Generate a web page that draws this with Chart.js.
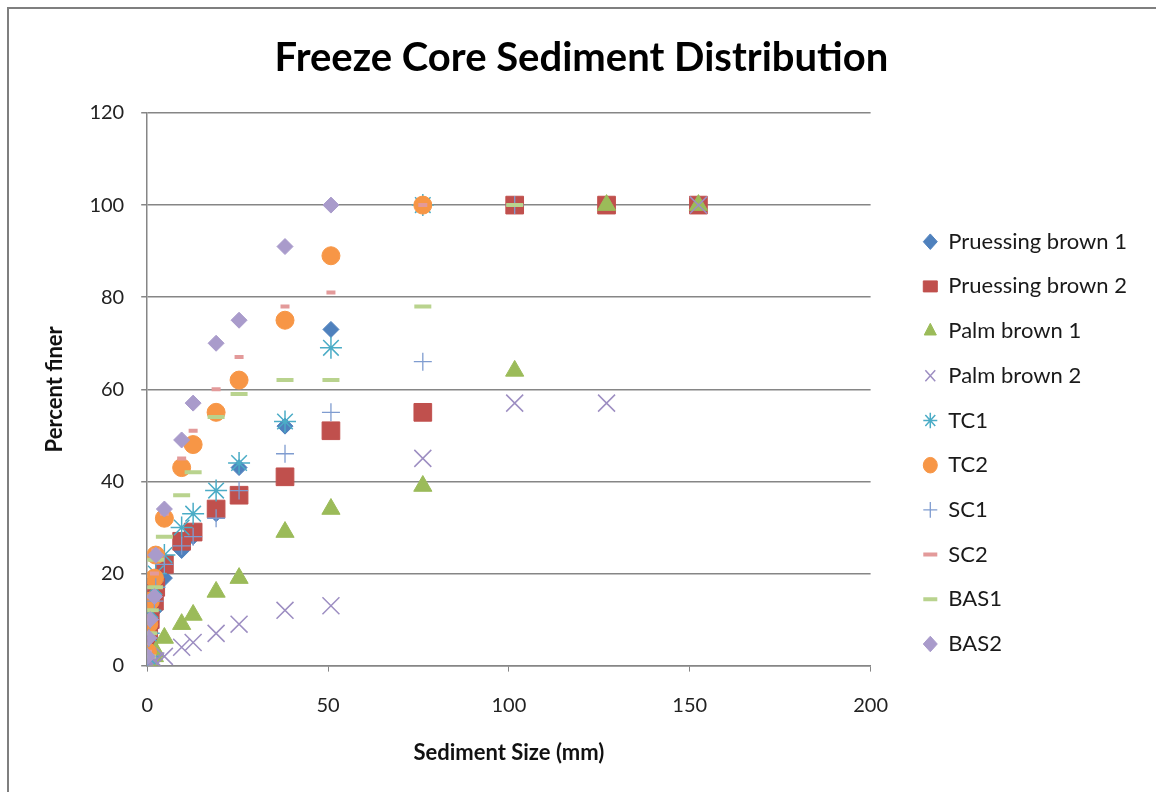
<!DOCTYPE html>
<html>
<head>
<meta charset="utf-8">
<script src="https://cdn.jsdelivr.net/npm/chart.js@4/dist/chart.umd.min.js"></script>
<style>
  body { margin: 0; background: #fff; }
  #frame { position: absolute; left: 7px; top: 7px; width: 1160px; height: 800px; border: 2px solid #7f7f7f; }
  #sediment { position: absolute; left: 0; top: 0; }
</style>
</head>
<body>
<div id="frame"></div>
<canvas id="sediment" width="1156" height="792"></canvas>
<script>
// sieve sizes in mm (shared by every sample)
var sizes = [152.4, 127, 101.6, 76.2, 50.8, 38.1, 25.4, 19.05, 12.7, 9.525, 4.75, 2.36, 2.0, 0.85, 0.425, 0.075];

// percent finer for each sample, null where no point shows
var pruessing1 = [null, null, null, 100, 73, 52, 43, 33, 28, 25, 19, 16, 12, 8, 4, 1];
var pruessing2 = [100, 100, 100, 55, 51, 41, 37, 34, 29, 27, 22, 17, 14, 10, 6, 2];
var palm1 = [100, 100, 64, 39, 34, 29, 19, 16, 11, 9, 6, 3, 2, 1, 0.5, 0];
var palm2 = [100, 57, 57, 45, 13, 12, 9, 7, 5, 4, 2, 1, 1, 0.5, 0, 0];
var tc1 = [null, null, null, 100, 69, 53, 44, 38, 33, 30, 24, 20, 17, 12, 7, 2];
var tc2 = [null, null, null, 100, 89, 75, 62, 55, 48, 43, 32, 24, 19, 14, 9, 3];
var sc1 = [null, null, 100, 66, 55, 46, 38, 32, 28, 26, 22, 17, 14, 10, 6, 2];
var sc2 = [null, null, null, 100, 81, 78, 67, 60, 51, 45, 33, 25, 20, 15, 10, 3];
var bas1 = [null, null, 100, 78, 62, 62, 59, 54, 42, 37, 28, 23, 17, 12, 7, 2];
var bas2 = [null, null, null, null, 100, 91, 75, 70, 57, 49, 34, 24, 15, 10, 6, 2];

var xTicks = [0, 50, 100, 150, 200];
var yTicks = [0, 20, 40, 60, 80, 100, 120];

// turn a column of values into scatter points
function pts(vals) {
    var out = [];
    for (var i = 0; i < sizes.length; i++) {
        if (vals[i] !== null) out.push({x: sizes[i], y: vals[i]});
    }
    return out;
}

var n = 0;
function series(label, vals, style, color, radius, border, fill) {
    n++;
    return {
        label: label,
        data: pts(vals),
        order: 20 - n, // later series sit on top, like Excel
        pointStyle: style,
        pointRadius: radius,
        pointHoverRadius: radius,
        pointBorderWidth: border,
        borderColor: color,
        backgroundColor: fill ? color : 'rgba(0,0,0,0)',
        pointBackgroundColor: fill ? color : 'rgba(0,0,0,0)',
        pointBorderColor: color,
        showLine: false
    };
}

// shift the legend and title a bit from where Chart.js puts them
var nudge = {
    id: 'nudge',
    afterLayout: function (c) {
        c.legend.left += 30; c.legend.right += 30;
        c.legend.top += 188; c.legend.bottom += 188;
        c.titleBlock.left += 23; c.titleBlock.right += 23;
    }
};

var font = 'Lato, "Open Sans", sans-serif';

var ctx = document.getElementById('sediment').getContext('2d');
var chart = new Chart(ctx, {
    type: 'scatter',
    plugins: [nudge],
    data: {
        datasets: [
            series('Pruessing brown 1', pruessing1, 'rectRot', '#4F81BD', 8, 1, true),
            series('Pruessing brown 2', pruessing2, 'rect', '#C0504D', 12.5, 1, true),
            series('Palm brown 1', palm1, 'triangle', '#9BBB59', 10.5, 1, true),
            series('Palm brown 2', palm2, 'crossRot', '#9D8EC2', 12, 1.5, false),
            series('TC1', tc1, 'star', '#4BACC6', 11, 1.5, false),
            series('TC2', tc2, 'circle', '#F79646', 9, 1, true),
            series('SC1', sc1, 'cross', '#7F9CD0', 9, 1.3, false),
            series('SC2', sc2, 'line', '#E39A9A', 4.5, 4, false),
            series('BAS1', bas1, 'line', '#B9D38E', 8.5, 4, false),
            series('BAS2', bas2, 'rectRot', '#A99BCB', 8, 1, true)
        ]
    },
    options: {
        responsive: false,
        animation: false,
        layout: { padding: { left: 10, right: 49, top: 20, bottom: 26 } },
        plugins: {
            title: {
                display: true,
                text: 'Freeze Core Sediment Distribution',
                color: '#000',
                font: { family: font, size: 40, weight: 'bold' },
                padding: { top: 14, bottom: 31 }
            },
            legend: {
                position: 'right',
                align: 'start',
                labels: {
                    usePointStyle: true,
                    pointStyleWidth: 14,
                    boxHeight: 11,
                    color: '#1a1a1a',
                    padding: 22.7,
                    font: { family: font, size: 22 },
                    sort: function (a, b) { return a.datasetIndex - b.datasetIndex; }
                }
            },
            tooltip: { enabled: false }
        },
        scales: {
            x: {
                type: 'linear',
                min: 0,
                max: 200,
                afterBuildTicks: function (axis) {
                    axis.ticks = xTicks.map(function (v) { return {value: v}; });
                },
                grid: { drawOnChartArea: false, tickLength: 6, color: '#868686' },
                border: { display: true, color: '#868686', width: 1.5 },
                ticks: { color: '#222', padding: 22, font: { family: font, size: 20 } },
                title: {
                    display: true,
                    text: 'Sediment Size (mm)',
                    color: '#111',
                    font: { family: font, size: 22, weight: 'bold' },
                    padding: { top: 0, bottom: 0 }
                }
            },
            y: {
                min: 0,
                max: 120,
                afterBuildTicks: function (axis) {
                    axis.ticks = yTicks.map(function (v) { return {value: v}; });
                },
                grid: { color: '#868686', lineWidth: 1.5, tickLength: 6 },
                border: { display: true, color: '#868686', width: 1.5 },
                ticks: { color: '#222', padding: 17, font: { family: font, size: 20 } },
                title: {
                    display: true,
                    text: 'Percent finer',
                    color: '#111',
                    font: { family: font, size: 22, weight: 'bold' },
                    padding: { top: 32, bottom: 4 }
                }
            }
        }
    }
});
</script>
</body>
</html>
